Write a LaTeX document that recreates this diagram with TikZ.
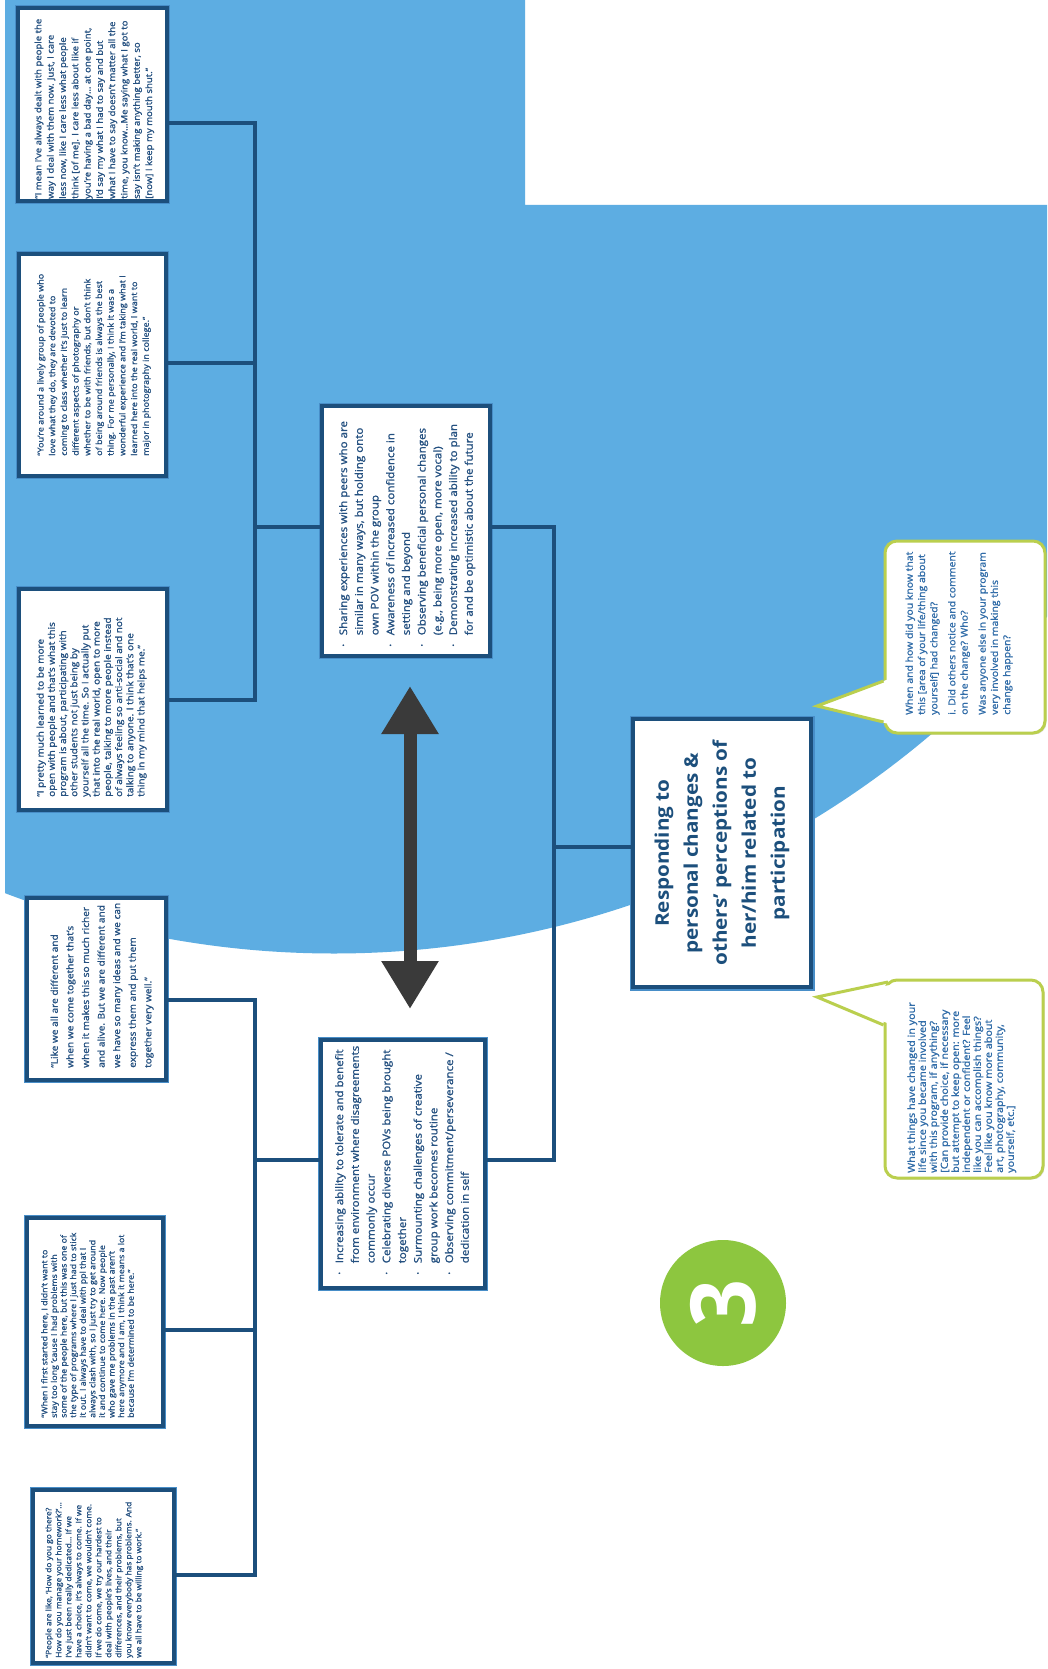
\documentclass[tikz,border=0pt]{standalone}
\usepackage{fontspec}
\setmainfont{Open Sans}
\newfontfamily\semi{Open Sans}[FakeBold=1.3]
\usetikzlibrary{arrows.meta,shadows}

\definecolor{bgblue}{RGB}{93,173,226}
\definecolor{navy}{RGB}{28,79,124}
\definecolor{glow}{RGB}{72,142,200}
\definecolor{qtext}{RGB}{36,80,128}
\definecolor{btext}{RGB}{48,108,168}
\definecolor{lime}{RGB}{186,207,78}
\definecolor{roundgreen}{RGB}{141,198,63}
\definecolor{arrowgray}{RGB}{58,58,58}

% text set along the page height, reading upwards
\newcommand{\rottext}[4]{%
  \begin{scope}[shift={#2},rotate=90,xscale=1.1]
    \node[transform shape,inner sep=0pt,#3] (#1) at (0,0) {#4};
  \end{scope}}

\begin{document}
\begin{tikzpicture}[x=1pt,y=-1pt,
  qbox/.style={draw=navy,line width=3.5pt,fill=white,
    preaction={draw=glow,line width=6pt}},
  bigbox/.style={draw=navy,line width=4.5pt,fill=white,
    preaction={draw=glow,line width=7pt}},
  conn/.style={draw=navy,line width=4pt},
  bubble/.style={draw=lime,line width=3pt,fill=white,rounded corners=12pt,
    drop shadow={shadow xshift=1.5pt,shadow yshift=-1.5pt,opacity=.25,fill=black!50}},
  tailedge/.style={draw=lime,line width=3pt,line join=miter},
  qtxt/.style={anchor=north west,align=left,text=qtext},
  ctxt/.style={anchor=north west,align=left,text=qtext,
    font=\semi\fontsize{10.5}{15.7}\selectfont},
  btxt/.style={anchor=north west,align=left,text=btext}]

\useasboundingbox (0,0) rectangle (1047,1669);
\fill[white] (0,0) rectangle (1047,1669);

% blue backdrop bounded by a large circle
\begin{scope}
  \clip (334,30.5) circle (923pt);
  \fill[bgblue] (5,0) -- (525,0) -- (525,205) -- (1047,205)
    -- (1047,1669) -- (5,1669) -- cycle;
\end{scope}

% boxes
\node[qbox,minimum width=149pt,minimum height=193pt] (q1) at (92.5,104.5) {};
\node[qbox,minimum width=147pt,minimum height=222pt] (q2) at (92.5,365) {};
\node[qbox,minimum width=148pt,minimum height=221pt] (q3) at (93,699.5) {};
\node[qbox,minimum width=168pt,minimum height=250pt] (c1) at (406,531) {};
\node[qbox,minimum width=164pt,minimum height=248pt] (c2) at (403,1164) {};
\node[bigbox,minimum width=178pt,minimum height=268pt] (big) at (722,853) {};
\node[qbox,minimum width=139pt,minimum height=182pt] (q4) at (96.5,989) {};
\node[qbox,minimum width=136pt,minimum height=208pt] (q5) at (95,1322) {};
\node[qbox,minimum width=141pt,minimum height=173pt] (q6) at (103.5,1576.5) {};

% connector junctions
\coordinate (ua) at (255,123);
\coordinate (ub) at (255,363);
\coordinate (uc) at (255,700);
\coordinate (um) at (255,527);
\coordinate (ra) at (554,527);
\coordinate (rb) at (554,847);
\coordinate (rc) at (554,1160);
\coordinate (la) at (255,1000);
\coordinate (lb) at (255,1330);
\coordinate (lc) at (255,1575);
\coordinate (lm) at (255,1160);

\draw[conn] (q1.east |- ua) -- (ua) -- (uc) -- (q3.east |- uc);
\draw[conn] (q2.east |- ub) -- (ub);
\draw[conn] (um) -- (c1.west |- um);
\draw[conn] (c1.east |- ra) -- (ra) -- (rc) -- (c2.east |- rc);
\draw[conn] (rb) -- (big.west |- rb);
\draw[conn] (q4.east |- la) -- (la) -- (lc) -- (q6.east |- lc);
\draw[conn] (q5.east |- lb) -- (lb);
\draw[conn] (lm) -- (c2.west |- lm);

% double-headed arrow between the two theme boxes
\coordinate (atop) at (410,686);
\coordinate (abot) at (410,1009);
\draw[draw=arrowgray,line width=13pt,
  {Triangle[length=48pt,width=54pt]}-{Triangle[length=48pt,width=54pt]}]
  (atop) -- (abot);

% speech bubbles
\node[bubble,minimum width=160pt,minimum height=192pt] (b1) at (965,637) {};
\fill[white] (889,679) -- (817,706) -- (889,724) -- cycle;
\draw[tailedge] (b1.west |- 0,681) -- (817,706) -- (b1.west |- 0,722);

\node[bubble,minimum width=158pt,minimum height=198pt] (b2) at (964,1079) {};
\fill[white] (890,985) -- (817,997) -- (890,1024) -- cycle;
\draw[tailedge] (888,982) -- (817,997) -- (b2.west |- 0,1025);

% number badge
\fill[roundgreen] (723,1303) circle (63pt);
\rottext{three}{(723,1303)}{anchor=center,text=white,
  font=\bfseries\fontsize{90}{90}\selectfont,xscale=0.85}{3}

% quotations
\rottext{q1t}{(34.5,199)}{qtxt,font=\semi\fontsize{8.7}{12.3}\selectfont}{%
“I mean I’ve always dealt with people the\\
way I deal with them now. Just, I care\\
less now, like I care less what people\\
think [of me]. I care less about like if\\
you’re having a bad day… at one point,\\
I’d say my what I had to say and but\\
what I have to say doesn’t matter all the\\
time, you know…Me saying what I got to\\
say isn’t making anything better, so\\
\relax[now] I keep my mouth shut.”}

\rottext{q2t}{(37,456)}{qtxt,font=\semi\fontsize{8.2}{11.7}\selectfont}{%
“You’re around a lively group of people who\\
love what they do, they are devoted to\\
coming to class whether it’s just to learn\\
different aspects of photography or\\
whether to be with friends, but don’t think\\
of being around friends is always the best\\
thing. For me personally, I think it was a\\
wonderful experience and I’m taking what I\\
learned here into the real world, I want to\\
major in photography in college.”}

\rottext{q3t}{(36.5,797)}{qtxt,font=\semi\fontsize{9.1}{11.2}\selectfont}{%
“I pretty much learned to be more\\
open with people and that’s what this\\
program is about, participating with\\
other students not just being by\\
yourself all the time. So I actually put\\
that into the real world, open to more\\
people, talking to more people instead\\
of always feeling so anti-social and not\\
talking to anyone. I think that’s one\\
thing in my mind that helps me.”}

\rottext{q4t}{(50.5,1068)}{qtxt,font=\semi\fontsize{9.2}{15.6}\selectfont}{%
“Like we all are different and\\
when we come together that’s\\
when it makes this so much richer\\
and alive. But we are different and\\
we have so many ideas and we can\\
express them and put them\\
together very well.”}

\rottext{q5t}{(41,1418)}{qtxt,font=\semi\fontsize{8}{9.6}\selectfont}{%
“When I first started here, I didn’t want to\\
stay too long ’cause I had problems with\\
some of the people here, but this was one of\\
the type of programs where I just had to stick\\
it out. I always have to deal with ppl that I\\
always clash with, so I just try to get around\\
it and continue to come here. Now people\\
who gave me problems in the past aren’t\\
here anymore and I am, I think it means a lot\\
because I’m determined to be here.”}

\rottext{q6t}{(45.3,1658)}{qtxt,font=\semi\fontsize{7.6}{10}\selectfont}{%
“People are like, ‘How do you go there?\\
How do you manage your homework?’…\\
I’ve just been really dedicated… If we\\
have a choice, it’s always to come. If we\\
didn’t want to come, we wouldn’t come.\\
If we do come, we try our hardest to\\
deal with people’s lives, and their\\
differences, and their problems, but\\
you know everybody has problems. And\\
we all have to be willing to work.”}

% theme boxes
\rottext{c1t}{(338.9,647)}{ctxt}{%
\makebox[1em][l]{·}Sharing experiences with peers who are\\
\hspace*{1em}similar in many ways, but holding onto\\
\hspace*{1em}own POV within the group\\
\makebox[1em][l]{·}Awareness of increased confidence in\\
\hspace*{1em}setting and beyond\\
\makebox[1em][l]{·}Observing beneficial personal changes\\
\hspace*{1em}(e.g., being more open, more vocal)\\
\makebox[1em][l]{·}Demonstrating increased ability to plan\\
\hspace*{1em}for and be optimistic about the future}

\rottext{c2t}{(334.9,1275)}{ctxt}{%
\makebox[1em][l]{·}Increasing ability to tolerate and benefit\\
\hspace*{1em}from environment where disagreements\\
\hspace*{1em}commonly occur\\
\makebox[1em][l]{·}Celebrating diverse POVs being brought\\
\hspace*{1em}together\\
\makebox[1em][l]{·}Surmounting challenges of creative\\
\hspace*{1em}group work becomes routine\\
\makebox[1em][l]{·}Observing commitment/perseverance /\\
\hspace*{1em}dedication in self}

\rottext{bigt}{(722,853)}{anchor=center,align=center,text=navy,
  font=\bfseries\fontsize{18.8}{29}\selectfont}{%
Responding to\\
personal changes \&\\
others’ perceptions of\\
her/him related to\\
participation}

% interview prompts
\rottext{b1t}{(905.3,715)}{btxt,font=\semi\fontsize{9.5}{12.3}\selectfont}{%
When and how did you know that\\
this [area of your life/thing about\\
yourself] had changed?\\[5.7pt]
i. Did others notice and comment\\
on the change? Who?\\[5.7pt]
Was anyone else in your program\\
very involved in making this\\
change happen?}

\rottext{b2t}{(907.2,1173)}{btxt,font=\semi\fontsize{9.8}{11}\selectfont}{%
What things have changed in your\\
life since you became involved\\
with this program, if anything?\\
\relax[Can provide choice, if necessary\\
but attempt to keep open: more\\
independent or confident? Feel\\
like you can accomplish things?\\
Feel like you know more about\\
art, photography, community,\\
yourself, etc.]}

\end{tikzpicture}
\end{document}
